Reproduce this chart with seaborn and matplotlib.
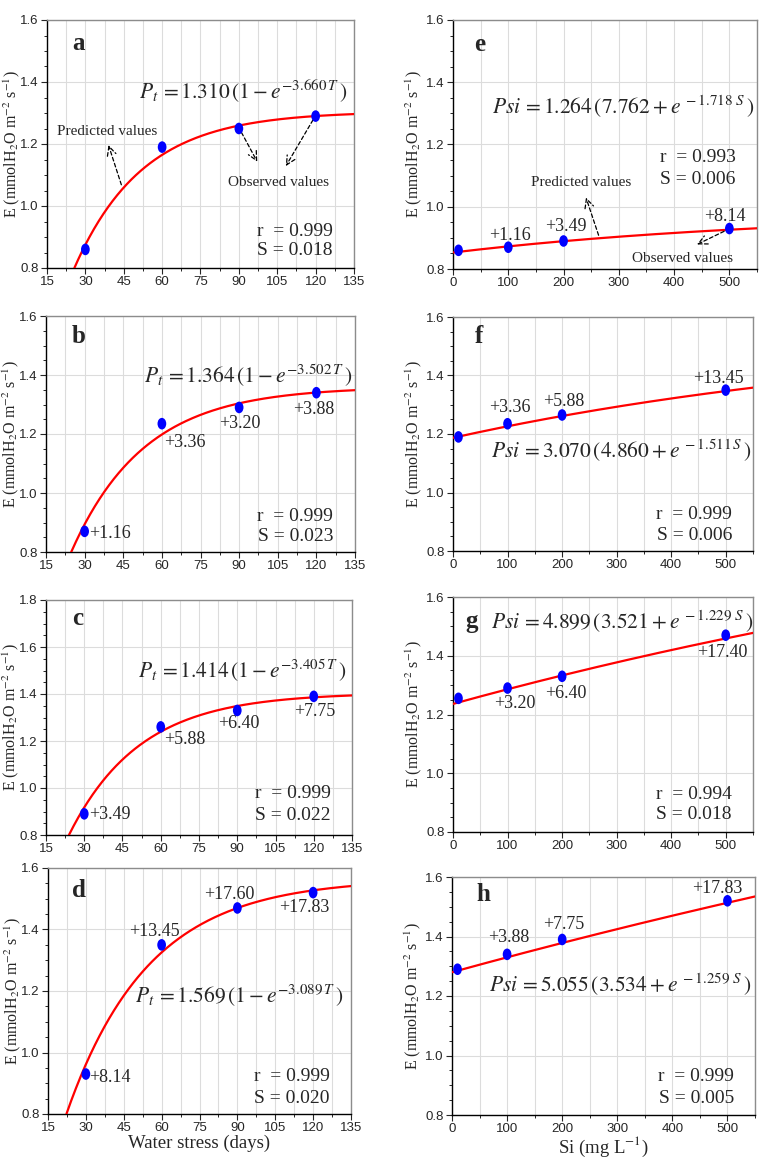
import numpy as np
import pandas as pd
import seaborn as sns
import matplotlib.pyplot as plt
from matplotlib.path import Path
from matplotlib.transforms import Affine2D
from matplotlib.ticker import MultipleLocator, FormatStrFormatter

# ---------------- data ----------------
days = [30, 60, 90, 120]
si = [10, 100, 200, 500]

obs_a = [0.86, 1.19, 1.25, 1.29]
obs_b = [0.87, 1.235, 1.29, 1.34]
obs_c = [0.89, 1.26, 1.33, 1.39]
obs_d = [0.93, 1.35, 1.47, 1.52]
obs_e = [0.86, 0.87, 0.89, 0.93]
obs_f = [1.19, 1.235, 1.265, 1.35]
obs_g = [1.255, 1.29, 1.33, 1.47]
obs_h = [1.29, 1.34, 1.39, 1.52]

lab_a = ['', '', '', '']
lab_b = ['+1.16', '+3.36', '+3.20', '+3.88']
lab_c = ['+3.49', '+5.88', '+6.40', '+7.75']
lab_d = ['+8.14', '+13.45', '+17.60', '+17.83']
lab_e = ['', '+1.16', '+3.49', '+8.14']
lab_f = ['', '+3.36', '+5.88', '+13.45']
lab_g = ['', '+3.20', '+6.40', '+17.40']
lab_h = ['', '+3.88', '+7.75', '+17.83']

# fitted curve: asymptote, rate, start x, start y
fit_a = (1.305, 0.0374, 25.7, 0.8)
fit_b = (1.36, 0.0353, 24.8, 0.8)
fit_c = (1.405, 0.036, 24.0, 0.8)
fit_d = (1.565, 0.0308, 22.3, 0.8)
fit_e = (0.986, 0.0016, 0, 0.853)
fit_f = (1.566, 0.001095, 0, 1.187)
fit_g = (2.12, 0.000581, 0, 1.236)
fit_h = (2.73, 0.000351, 0, 1.280)

eq_a = r'$P_t\,=1.310\,(1-e^{-3.660\,T}\,)$'
eq_b = r'$P_t\,=1.364\,(1-e^{-3.502\,T}\,)$'
eq_c = r'$P_t\,=1.414\,(1-e^{-3.405\,T}\,)$'
eq_d = r'$P_t\,=1.569\,(1-e^{-3.089\,T}\,)$'
eq_e = r'$Psi\,=1.264\,(7.762+e^{\,-1.718\ S}\,)$'
eq_f = r'$Psi\,=3.070\,(4.860+e^{\,-1.511\,S}\,)$'
eq_g = r'$Psi\,=4.899\,(3.521+e^{\,-1.229\ S}\,)$'
eq_h = r'$Psi\,=5.055\,(3.534+e^{\,-1.259\ S}\,)$'

r_vals = ['0.999', '0.999', '0.999', '0.999', '0.993', '0.999', '0.994', '0.999']
s_vals = ['0.018', '0.023', '0.022', '0.020', '0.006', '0.006', '0.018', '0.005']

# ---------------- layout / style ----------------
sns.set_style('white')
plt.rcParams['font.family'] = ['Liberation Serif', 'DejaVu Serif']
plt.rcParams['mathtext.fontset'] = 'stix'

fig = plt.figure(figsize=(7.68, 11.6), dpi=100)
W, H = 768, 1160

def rect(l, r, t, b):
    return [l / W, 1 - b / H, (r - l) / W, (b - t) / H]

left_rects = [rect(47, 354, 20, 268), rect(46, 355, 316, 552),
              rect(46, 352, 600, 835), rect(48, 351, 868, 1114)]
right_rects = [rect(453, 757, 20, 269), rect(453, 753, 317, 551),
               rect(453, 753, 597, 832), rect(452, 755, 877, 1115)]

ellipse = Path.unit_circle().transformed(Affine2D().scale(0.75, 1.0))

panels = [
    ('a', days, obs_a, lab_a, fit_a, eq_a, (0.64, 0.716), (0.103, 0.905), (0.149, 0.07), 1.6,
     [(0, 0), (0, 0), (0, 0), (0, 0)]),
    ('b', days, obs_b, lab_b, fit_b, eq_b, (0.655, 0.746), (0.105, 0.914), (0.15, 0.066), 1.6,
     [(25, -2), (23, -19), (1, -16), (-3, -17)]),
    ('c', days, obs_c, lab_c, fit_c, eq_c, (0.64, 0.698), (0.103, 0.923), (0.175, 0.085), 1.8,
     [(26, -1), (24, -13), (2, -13), (1, -15)]),
    ('d', days, obs_d, lab_d, fit_d, eq_d, (0.63, 0.48), (0.101, 0.908), (0.154, 0.065), 1.6,
     [(24, -3), (-7, 13), (-8, 13), (-9, -15)]),
    ('e', si, obs_e, lab_e, fit_e, eq_e, (0.56, 0.65), (0.089, 0.90), (0.449, 0.358), 1.6,
     [(0, 0), (2, 12), (2, 14), (-5, 12)]),
    ('f', si, obs_f, lab_f, fit_f, eq_f, (0.56, 0.427), (0.086, 0.915), (0.158, 0.068), 1.6,
     [(0, 0), (2, 16), (2, 13), (-7, 12)]),
    ('g', si, obs_g, lab_g, fit_g, eq_g, (0.565, 0.894), (0.063, 0.894), (0.158, 0.074), 1.6,
     [(0, 0), (7, -15), (4, -17), (-3, -17)]),
    ('h', si, obs_h, lab_h, fit_h, eq_h, (0.555, 0.547), (0.105, 0.926), (0.161, 0.07), 1.6,
     [(0, 0), (2, 17), (2, 15), (-10, 12)]),
]

for i, (letter, xs, ys, labs, fit, eq, eq_pos, let_pos, rs_pos, ytop, offs) in enumerate(panels):
    is_left = i < 4
    ax = fig.add_axes(left_rects[i] if is_left else right_rects[i - 4])

    A, k, x0, y0 = fit
    xmax = 135 if is_left else 550
    xc = np.linspace(x0, xmax, 300)
    curve = pd.DataFrame({'x': xc, 'y': A - (A - y0) * np.exp(-k * (xc - x0))})
    pts = pd.DataFrame({'x': xs, 'y': ys})

    sns.lineplot(data=curve, x='x', y='y', ax=ax, color='red', lw=1.6, zorder=3)
    sns.scatterplot(data=pts, x='x', y='y', ax=ax, color='#0000ff', marker=ellipse,
                    s=70, edgecolor='none', zorder=4)

    for xv, yv, t, (dx, dy) in zip(xs, ys, labs, offs):
        if t:
            ax.annotate(t, (xv, yv), xytext=(dx, dy), textcoords='offset pixels',
                        ha='center', va='center', fontsize=13)

    if is_left:
        ax.set_xlim(15, 135)
        ax.xaxis.set_major_locator(MultipleLocator(15))
        ax.xaxis.set_minor_locator(MultipleLocator(7.5))
    else:
        ax.set_xlim(0, 550)
        ax.xaxis.set_major_locator(MultipleLocator(100))
        ax.xaxis.set_minor_locator(MultipleLocator(50))
    ax.xaxis.set_major_formatter(FormatStrFormatter('%d'))
    ax.set_ylim(0.8, ytop)
    ax.yaxis.set_major_locator(MultipleLocator(0.2))
    ax.yaxis.set_minor_locator(MultipleLocator(0.05))
    ax.yaxis.set_major_formatter(FormatStrFormatter('%.1f'))

    ax.grid(True, which='both', axis='x', color='#dcdcdc', lw=0.8)
    ax.grid(True, which='major', axis='y', color='#dcdcdc', lw=0.8)
    ax.set_axisbelow(True)

    for side in ['left', 'bottom']:
        ax.spines[side].set_color('black')
        ax.spines[side].set_linewidth(1.0)
    for side in ['top', 'right']:
        ax.spines[side].set_color('#8c8c8c')
        ax.spines[side].set_linewidth(1.0)

    ax.tick_params(which='major', direction='out', length=4, width=0.8, labelsize=9.5,
                   pad=2, bottom=True, left=True)
    ax.tick_params(which='minor', direction='out', length=2.5, width=0.7,
                   bottom=True, left=True)
    for lbl in ax.get_xticklabels() + ax.get_yticklabels():
        lbl.set_fontfamily('Liberation Sans')

    ax.set_ylabel(r'E (mmolH$_2$O m$^{-2}$ s$^{-1}$)', fontsize=11.5, va='center')
    ax.yaxis.set_label_coords(-0.115 if is_left else -0.13, 0.5)
    if i == 3:
        ax.set_xlabel('Water stress (days)', fontsize=13.5, labelpad=0)
    elif i == 7:
        ax.set_xlabel(r'Si (mg L$^{-1}$)', fontsize=13.5, labelpad=0)
    else:
        ax.set_xlabel('')

    ax.text(let_pos[0], let_pos[1], letter, transform=ax.transAxes, ha='center',
            va='center', fontsize=18, fontweight='bold')
    ax.text(eq_pos[0], eq_pos[1], eq, transform=ax.transAxes, ha='center',
            va='center', fontsize=15.5)
    ax.text(0.93, rs_pos[0], 'r  = ' + r_vals[i], transform=ax.transAxes, ha='right',
            va='center', fontsize=14)
    ax.text(0.93, rs_pos[1], 'S = ' + s_vals[i], transform=ax.transAxes, ha='right',
            va='center', fontsize=14)

    arrow = dict(arrowstyle='->', linestyle=(0, (3, 2)), color='black', lw=0.9,
                 mutation_scale=16)
    if letter == 'a':
        ax.text(38.5, 1.24, 'Predicted values', fontsize=11, ha='center', va='center')
        ax.annotate('', xy=(38.7, 1.205), xytext=(44.4, 1.06), arrowprops=arrow)
        ax.text(105.6, 1.076, 'Observed values', fontsize=11, ha='center', va='center')
        ax.annotate('', xy=(97.7, 1.135), xytext=(90.5, 1.245), arrowprops=arrow)
        ax.annotate('', xy=(107.8, 1.121), xytext=(119.5, 1.285), arrowprops=arrow)
    if letter == 'e':
        ax.text(232, 1.078, 'Predicted values', fontsize=11, ha='center', va='center')
        ax.annotate('', xy=(239, 1.038), xytext=(265, 0.9), arrowprops=arrow)
        ax.text(416, 0.835, 'Observed values', fontsize=11, ha='center', va='center')
        ax.annotate('', xy=(437, 0.875), xytext=(495, 0.925), arrowprops=arrow)

fig.savefig('out.png', dpi=100)
